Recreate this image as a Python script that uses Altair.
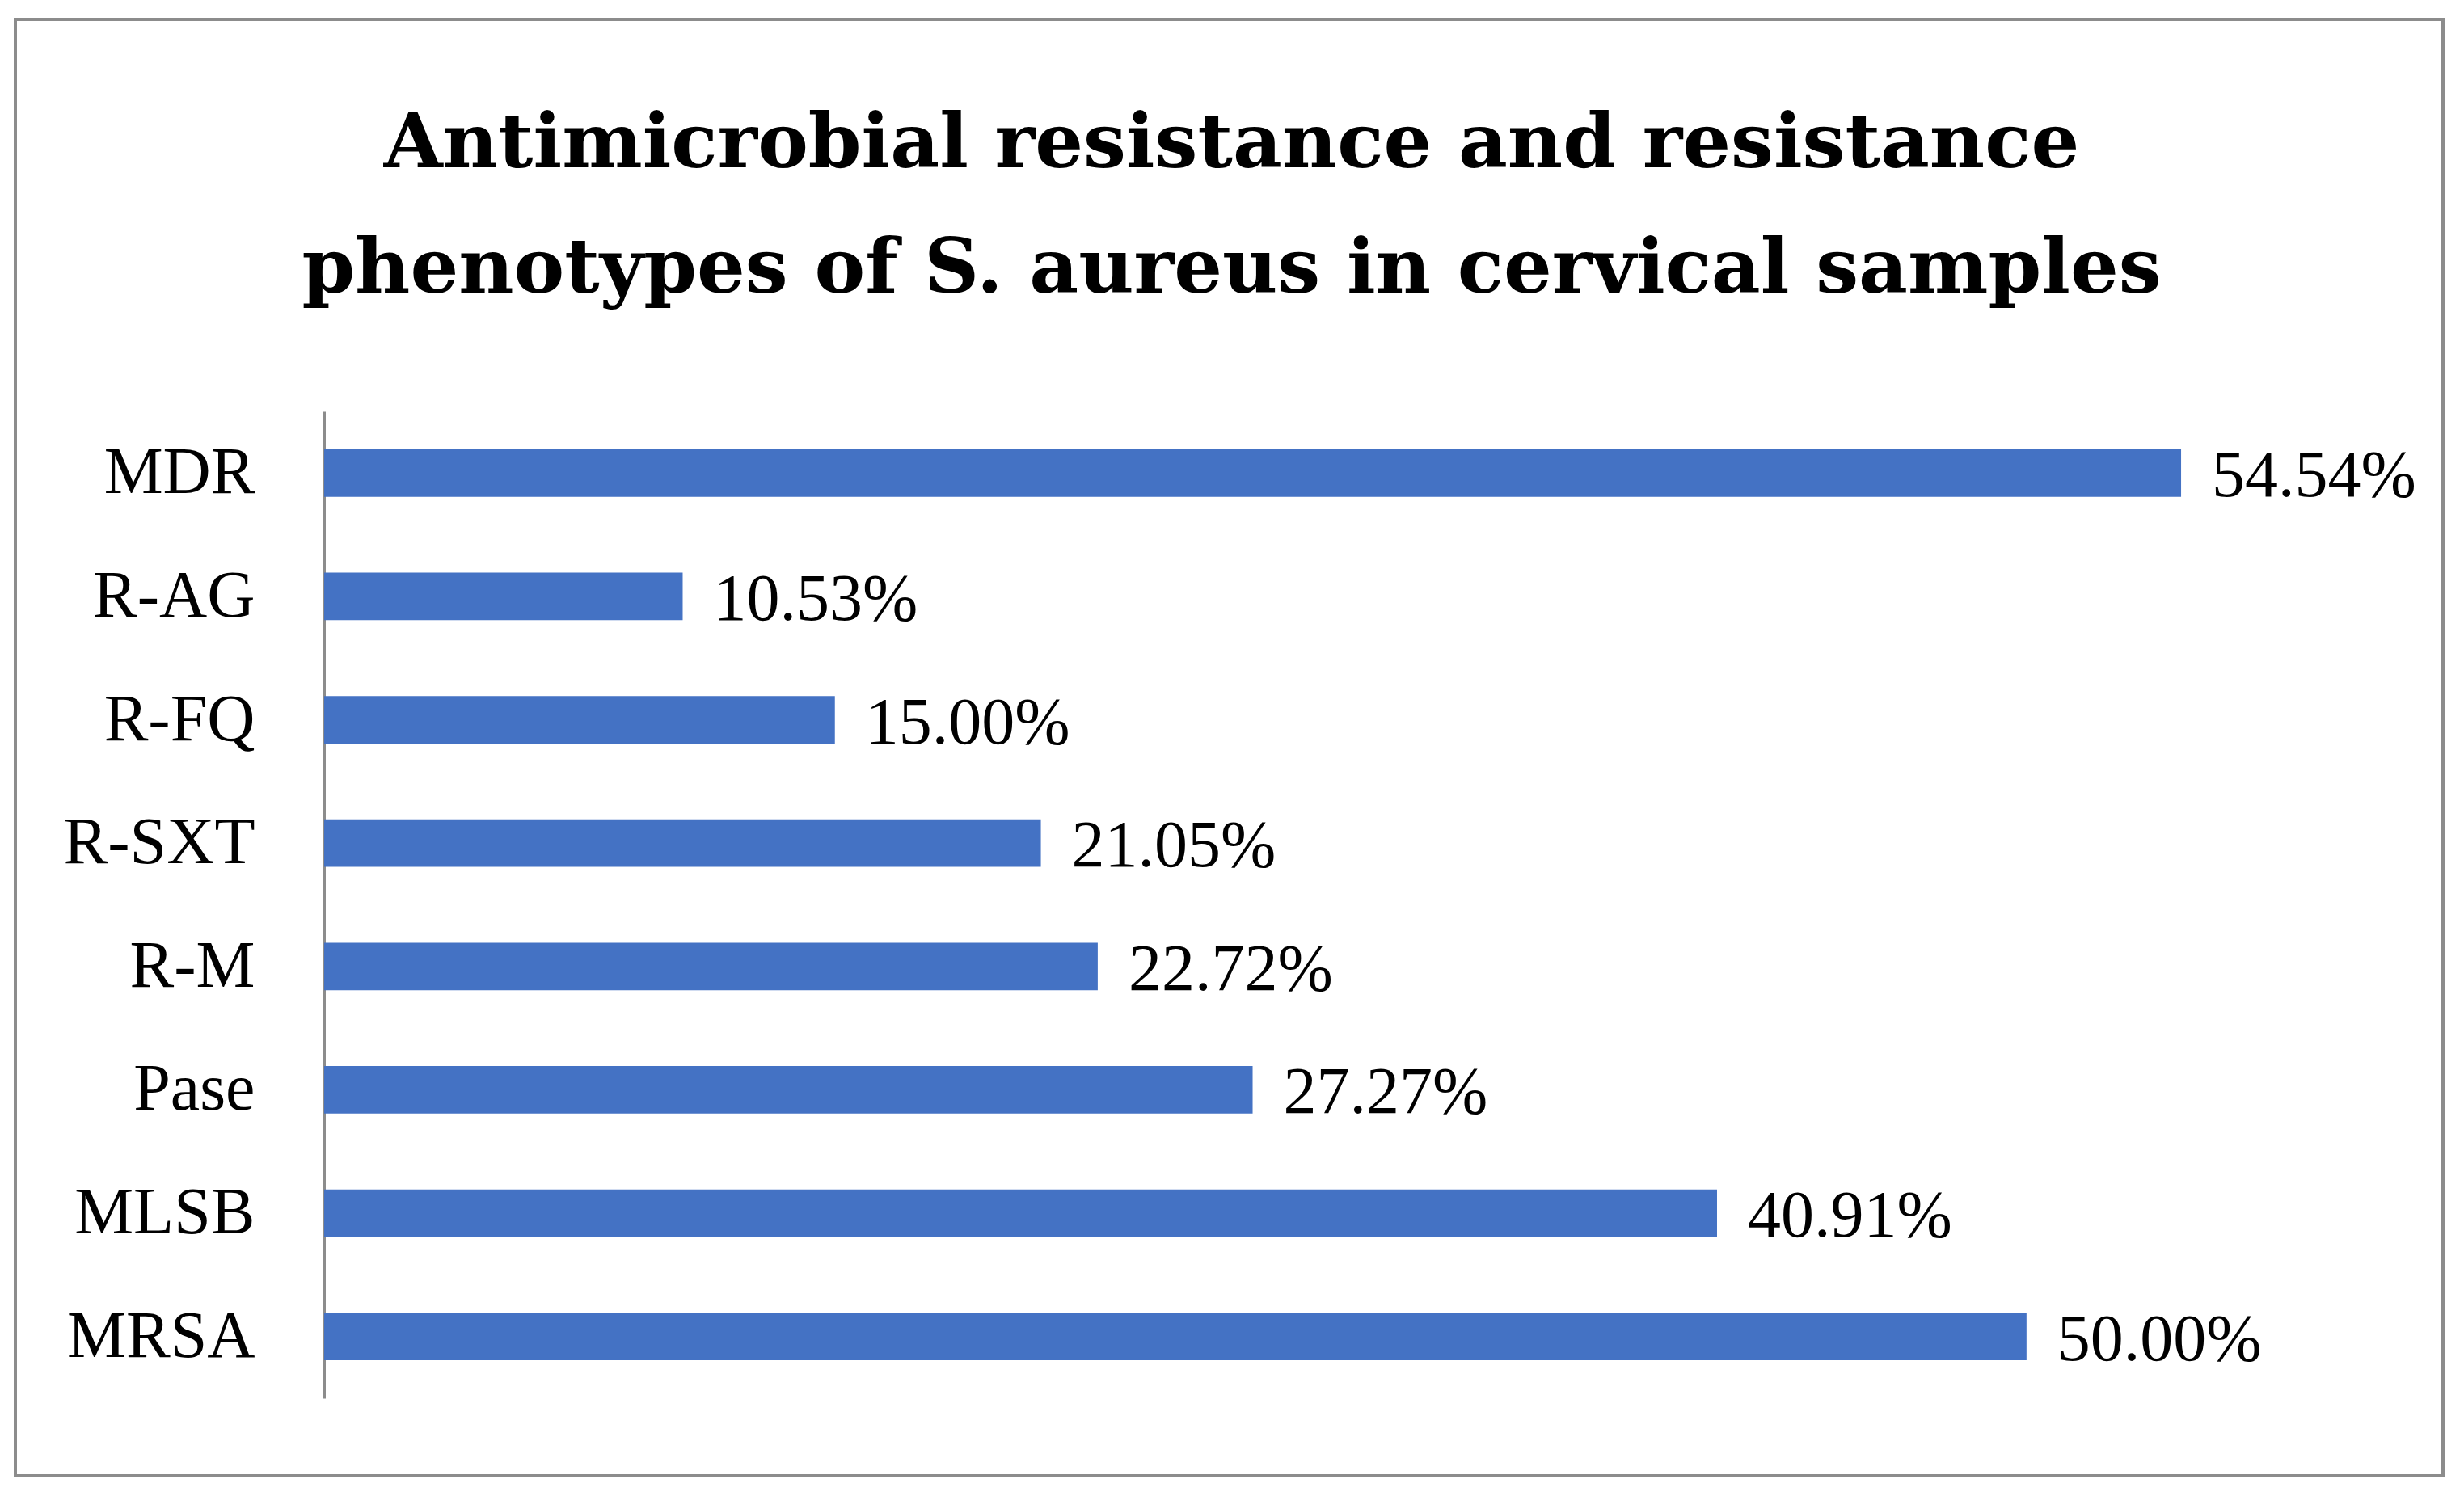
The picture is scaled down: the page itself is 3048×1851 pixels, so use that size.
import altair as alt
import pandas as pd

categories = ["MDR", "R-AG", "R-FQ", "R-SXT", "R-M", "Pase", "MLSB", "MRSA"]
values = [54.54, 10.53, 15.00, 21.05, 22.72, 27.27, 40.91, 50.00]
labels = ["54.54%", "10.53%", "15.00%", "21.05%", "22.72%", "27.27%", "40.91%", "50.00%"]
title_lines = ["Antimicrobial resistance and resistance",
               "phenotypes of S. aureus in cervical samples"]

df = pd.DataFrame({"cat": categories, "val": values, "lab": labels})

FONT = "Liberation Serif"
W, H = 2527, 1221

y_enc = alt.Y("cat:N", sort=categories, title=None,
              scale=alt.Scale(paddingInner=0.615, paddingOuter=0.3075),
              axis=alt.Axis(labelFont=FONT, labelFontSize=82, labelColor="#000000",
                            labelPadding=86, ticks=False, domainColor="#8c8c8c",
                            domainWidth=3, labelAlign="right", labelLimit=0))
x_enc = alt.X("val:Q", scale=alt.Scale(domain=[0, 60]), axis=None)

bars = alt.Chart(df).mark_bar(color="#4472C4").encode(y=y_enc, x=x_enc)
text = alt.Chart(df).mark_text(align="left", baseline="middle", dx=38, dy=4,
                               font=FONT, fontSize=82, color="#000000").encode(
    y=y_enc, x=x_enc, text="lab:N")

border = alt.Chart(pd.DataFrame({"b": [0]})).mark_rect(
    fill=None, stroke="#8c8c8c", strokeWidth=4).encode(
    x=alt.value(-382), x2=alt.value(2621), y=alt.value(-485), y2=alt.value(1317))

chart = alt.layer(border, bars, text).properties(
    width=W, height=H,
    background="white",
    padding={"left": 393, "top": 501, "right": 100, "bottom": 100},
    autosize=alt.AutoSizeParams(type="none"),
    title=alt.Title(title_lines,
                    font="DejaVu Serif", fontSize=94, fontWeight="bold", color="#000000",
                    anchor="middle", dx=-141, baseline="bottom", lineHeight=155,
                    offset=-454),
).configure_view(stroke=None)

chart.save("out.html", embed_options={"renderer": "svg", "actions": False})
